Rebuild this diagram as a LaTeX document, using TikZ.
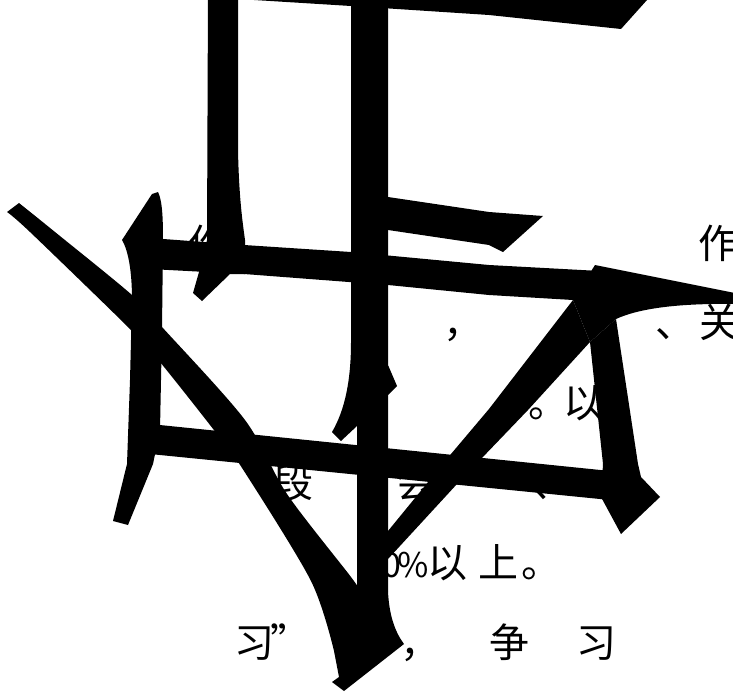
\documentclass[tikz,border=0pt]{standalone}
\usepackage{fontspec}
\newfontfamily\cjk{Noto Sans CJK SC}
\begin{document}
\begin{tikzpicture}[x=1pt,y=-1pt]
		\tikzset{ink/.style = {fill=black}}
		\tikzset{zi/.style = {inner sep=0pt,anchor=base west,font=\cjk\fontsize{40}{40}\selectfont}}
		\tikzset{shu/.style = {zi,anchor=base east,font=\cjk\fontsize{34}{34}\selectfont}}
		\useasboundingbox (0,0) rectangle (733,696);
		\fill[white] (0,0) rectangle (733,696);
		\clip (0,0) rectangle (733,696);
		% text lines
		\node[zi] (zuo1) at (188,258) {作};
		\node[zi] (zuo2) at (698,258) {作};
		\node[zi] (dou1) at (443,337) {，};
		\node[zi] (dun1) at (655,337) {、};
		\node[zi] (guan) at (699,337) {关};
		\node[zi] (ju1) at (528,417) {。};
		\node[zi] (yi1) at (563,417) {以};
		\node[zi] (duan) at (273,497) {段};
		\node[zi] (hui) at (396,497) {会};
		\node[zi] (dun2) at (532,497) {、};
		\node[shu] (ling) at (402,577) {0};
		\node[shu] (bai) at (429,577) {\%};
		\node[zi] (yi2) at (427,577) {以};
		\node[zi] (shang) at (478,577) {上};
		\node[zi] (ju2) at (521,577) {。};
		\node[zi] (xi1) at (234,657) {习};
		\node[zi] (yin) at (270,657) {”};
		\node[zi] (dou2) at (400,657) {，};
		\node[zi] (zheng) at (489,657) {争};
		\node[zi] (xi2) at (576,657) {习};
		% big strokes
		\fill[ink] (230,-30) -- (238,-1) -- (351,6) -- (489,15) -- (621,29) -- (647,0) -- (660,-30) -- cycle;
		\fill[ink] (208,-10) -- (238,-10) -- (238,150) .. controls (239,200) and (243,225) .. (245,240) -- (245,274) -- (230,274) -- (202,301) -- (193,293) -- (199,272) -- (207,240) -- cycle;
		\fill[ink] (351,-10) -- (388,-10) -- (388,365) -- (397,386) -- (388,395) -- (388,591) -- (357,591) -- (357,426) -- (341,441) -- (332,432) .. controls (345,410) and (351,380) .. (351,342) -- cycle;
		\fill[ink] (388,197) -- (489,212) -- (543,216) -- (503,252) -- (489,245) -- (388,230) -- cycle;
		\fill[ink] (150,238) -- (244,245) -- (351,252) -- (489,265) -- (600,271) -- (600,300) -- (573,300) -- (489,295) -- (388,285) -- (244,274) -- (150,269) -- cycle;
		\fill[ink] (595,265) -- (740,294) -- (740,304) .. controls (680,303) and (640,308) .. (616,319) -- (590,342) -- (573,300) -- cycle;
		\fill[ink] (616,319) -- (638,464) -- (641,477) -- (660,497) -- (621,534) -- (601,497) -- (603,464) -- (590,342) -- cycle;
		\fill[ink] (573,300) -- (590,342) -- (528,410) -- (457,484) -- (388,559) -- (388,531) -- (451,454) -- (489,409) -- cycle;
		\fill[ink] (150,424) -- (620,472) -- (620,501) -- (150,454) -- cycle;
		\fill[ink] (152,194) -- (158,192) .. controls (162,200) and (163,215) .. (163,240) -- (162,330) -- (160,430) -- (153,464) -- (128,525) -- (113,521) -- (127,464) -- (130,380) -- (132,300) .. controls (132,270) and (128,250) .. (122,240) -- cycle;
		\fill[ink] plot[smooth] coordinates {(19,203) (55,232) (132,295) (162,327) (245,420) (287,494) (351,577) (360,591)}
			-- (388,591) .. controls (389,615) and (395,632) .. (404,644) -- (344,691) -- (332,682) -- (339,677)
			-- plot[smooth] coordinates {(334,651) (311,581) (244,471) (217,434) (160,362) (130,329) (30,232) (7,212)} -- cycle;
	\end{tikzpicture}
\end{document}
